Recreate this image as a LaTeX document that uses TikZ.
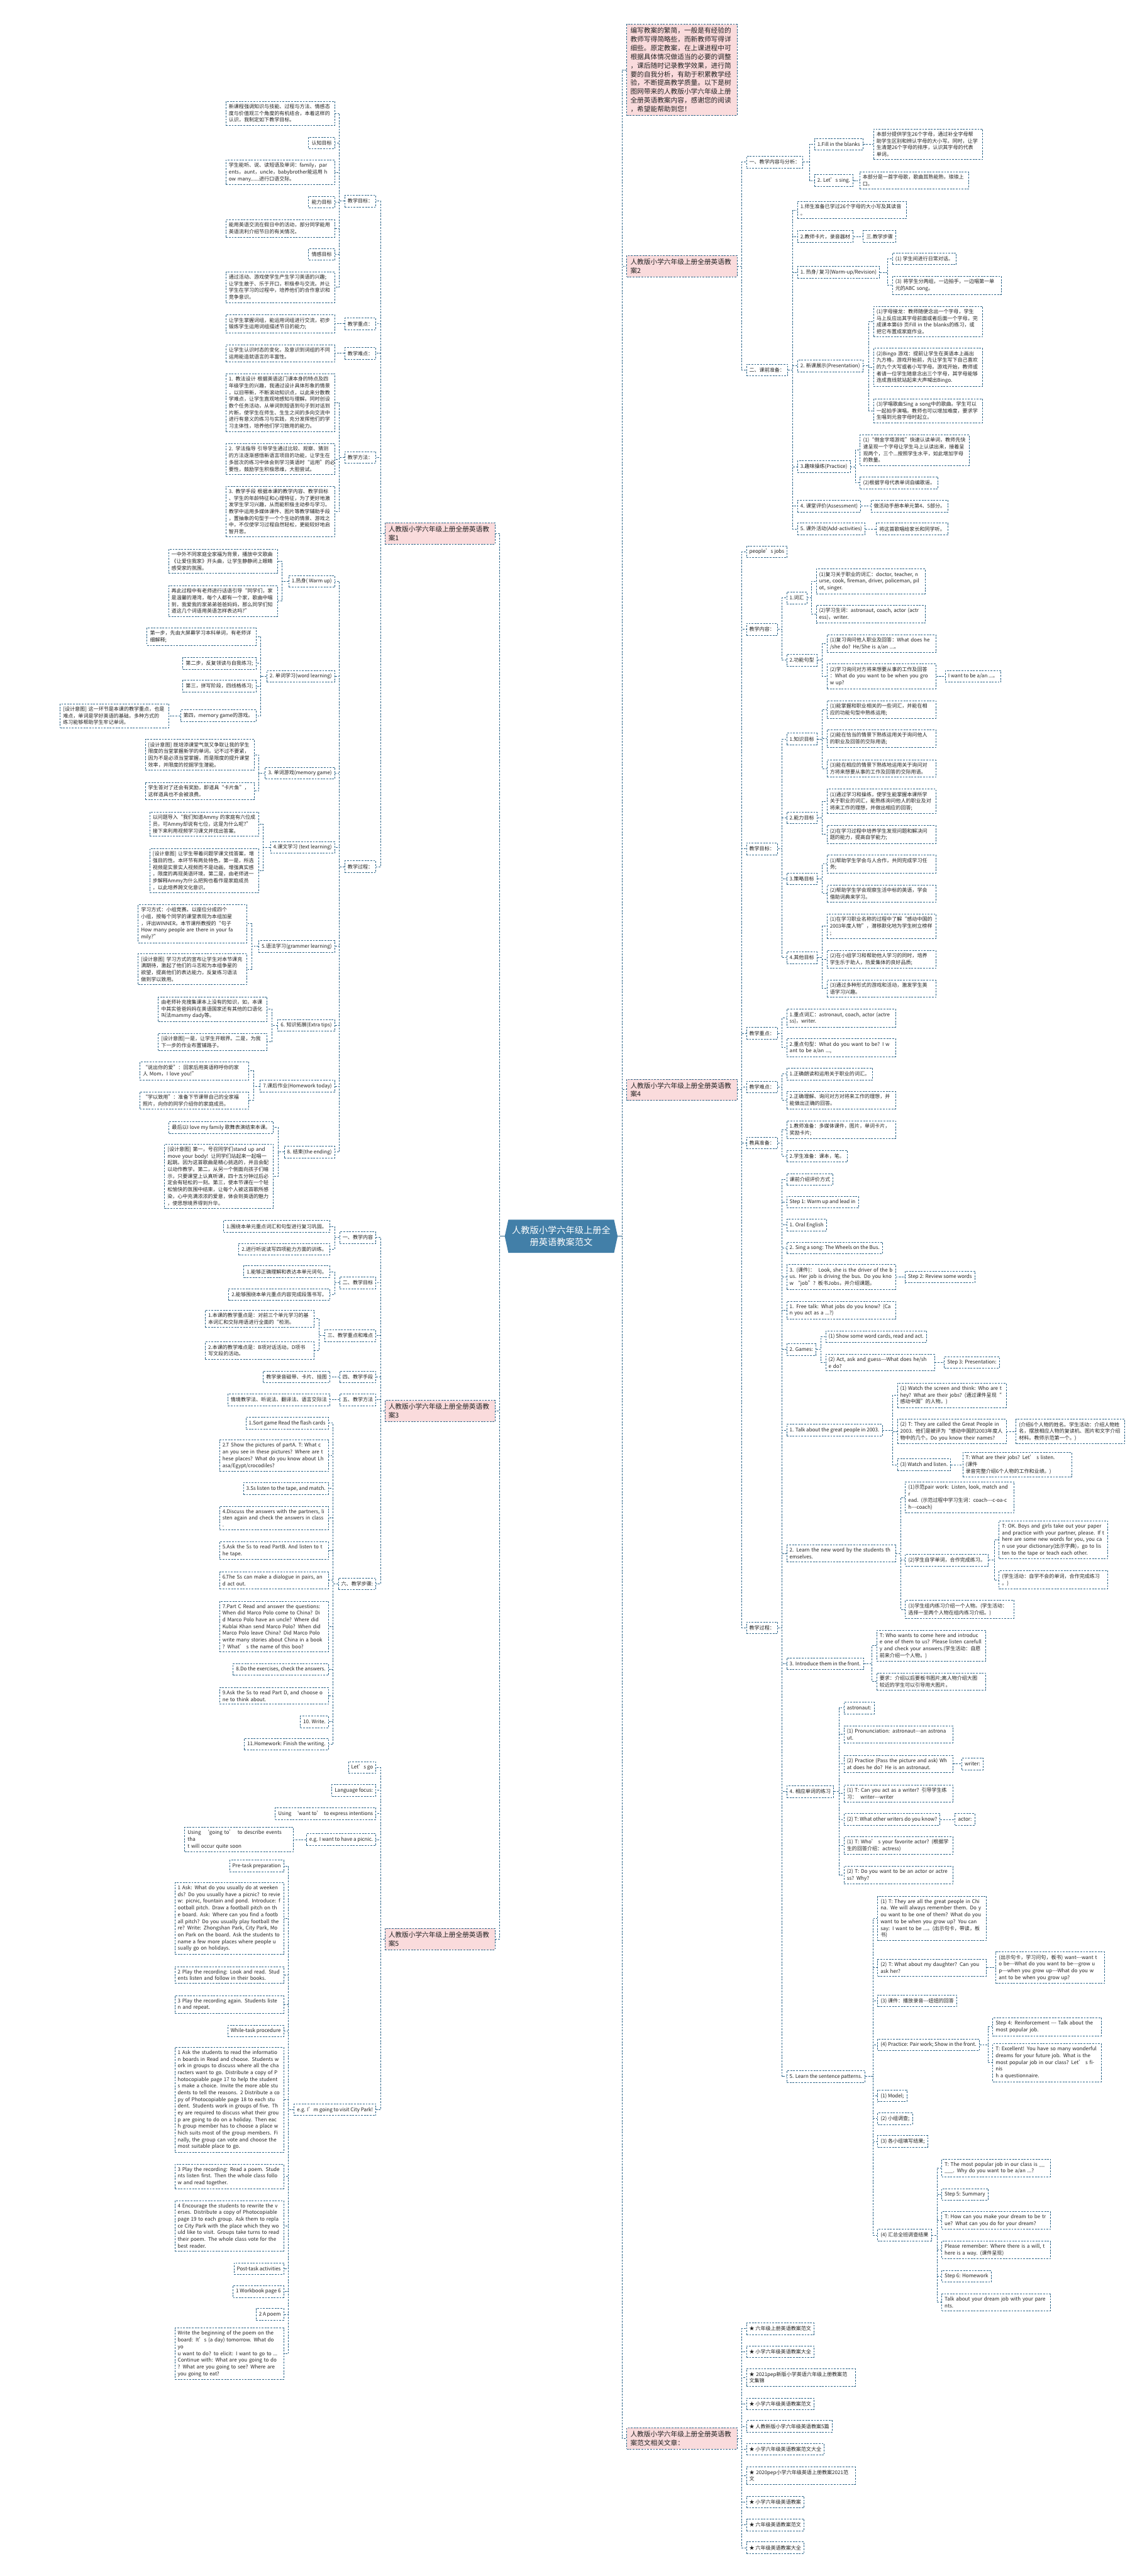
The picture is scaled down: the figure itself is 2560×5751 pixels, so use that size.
\documentclass[tikz,border=0pt]{standalone}
\usepackage{fontspec}
\newfontfamily\cjk{Noto Sans CJK SC}
\usetikzlibrary{calc}
\definecolor{bc}{HTML}{2B6488}
\definecolor{lc}{HTML}{2B6488}
\definecolor{pk}{HTML}{FADBDC}
\definecolor{cb}{HTML}{427FA8}
\definecolor{txt}{HTML}{222222}
\tikzset{
 bx/.style={draw=bc, line width=1.2pt, dash pattern=on 4pt off 2.5pt, fill=white, text=txt, inner xsep=6.5pt, inner ysep=6.5pt, align=left, minimum height=26pt, font=\cjk\fontsize{11.3}{15}\selectfont},
 lb/.style={bx, anchor=east},
 rb/.style={bx, anchor=west},
 ml/.style={text width=230pt},
 pkl/.style={bx, fill=pk, anchor=east, text width=230pt, inner xsep=8pt, inner ysep=7pt, font=\cjk\fontsize{15}{19.5}\selectfont},
 pkr/.style={pkl, anchor=west},
 conn/.style={draw=lc, line width=1.3pt, dash pattern=on 4pt off 2.5pt},
}
\newcommand\conR[2]{\path (#2.west) ++(-10pt,0) coordinate (tt); \draw[conn] (#1.east) -- (tt |- #1.east) |- (#2.west);}
\newcommand\conL[2]{\path (#2.east) ++(10pt,0) coordinate (tt); \draw[conn] (#1.west) -- (tt |- #1.west) |- (#2.east);}
\begin{document}
\begin{tikzpicture}[x=1pt,y=-1pt]
\fill[white] (0,0) rectangle (2560,5751);
\useasboundingbox (0,0) rectangle (2560,5751);
% ---------- centre ----------
\fill[cb] (1127,2760) -- (1135,2723) -- (1371,2723) -- (1379,2760) -- (1371,2797) -- (1135,2797) -- cycle;
\node[font=\cjk\fontsize{20}{26}\selectfont, text=white, align=center, minimum width=252pt, minimum height=74pt, inner sep=0pt] (ctr) at (1253,2760) {人教版小学六年级上册全\\册英语教案范文};
% ---------- main branches ----------
\node[pkl] (m1) at (1106,1191) {人教版小学六年级上册全册英语教\\案1};
\node[pkl] (m3) at (1106,3150) {人教版小学六年级上册全册英语教\\案3};
\node[pkl] (m5) at (1106,4329) {人教版小学六年级上册全册英语教\\案5};
\node[pkr] (intro) at (1399,156) {编写教案的繁简，一般是有经验的\\教师写得简略些，而新教师写得详\\细些。原定教案，在上课进程中可\\根据具体情况做适当的必要的调整\\，课后随时记录教学效果，进行简\\要的自我分析，有助于积累教学经\\验，不断提高教学质量。以下是树\\图网带来的人教版小学六年级上册\\全册英语教案内容，感谢您的阅读\\，希望能帮助到您！};
\node[pkr] (m2) at (1399,594) {人教版小学六年级上册全册英语教\\案2};
\node[pkr] (m4) at (1399,2433) {人教版小学六年级上册全册英语教\\案4};
\node[pkr] (m6) at (1399,5444) {人教版小学六年级上册全册英语教\\案范文相关文章：};
\foreach \m in {m1,m3,m5} {\conL{ctr}{\m}}
\foreach \m in {intro,m2,m4,m6} {\conR{ctr}{\m}}
\draw[lc, line width=1.3pt] (ctr.west) -- ++(-10pt,0);
\draw[lc, line width=1.3pt] (ctr.east) -- ++(10pt,0);
% ================= 教案1 =================
\node[lb] (a1) at (840,449) {教学目标：};
\node[lb] (a2) at (840,723) {教学重点：};
\node[lb] (a3) at (840,789) {教学难点：};
\node[lb] (a4) at (840,1021) {教学方法：};
\node[lb] (a5) at (840,1935) {教学过程：};
\foreach \c in {a1,a2,a3,a4,a5} {\conL{m1}{\c}}
\node[lb,ml] (a1a) at (748,253) {新课程强调知识与技能、过程与方法、情感态\\度与价值观三个角度的有机结合，本着这样的\\认识，我制定如下教学目标。};
\node[lb] (a1b) at (748,319) {认知目标};
\node[lb,ml] (a1c) at (748,385) {学生能听、说、读短语及单词：family，par\\ents，aunt，uncle，babybrother能运用 h\\ow many......进行口语交际。};
\node[lb] (a1d) at (748,451) {能力目标};
\node[lb,ml] (a1e) at (748,510) {能用英语交流在假日中的活动，部分同学能用\\英语流利介绍节日的有关情况。};
\node[lb] (a1f) at (748,568) {情感目标};
\node[lb,ml] (a1g) at (748,641) {通过活动、游戏使学生产生学习英语的兴趣;\\让学生敢于、乐于开口，积极参与交流。并让\\学生在学习的过程中，培养他们的合作意识和\\竞争意识。};
\foreach \c in {a1a,a1b,a1c,a1d,a1e,a1f,a1g} {\conL{a1}{\c}}
\node[lb,ml] (a2a) at (748,723) {让学生掌握词组，能运用词组进行交流，初步\\锻炼学生运用词组描述节日的能力;};
\conL{a2}{a2a}
\node[lb,ml] (a3a) at (748,789) {让学生认识时态的变化，及意识到词组的不同\\运用能造就语言的丰富性。};
\conL{a3}{a3a}
\node[lb,ml] (a4a) at (748,899) {1. 教法设计 根据英语这门课本身的特点及四\\年级学生的兴趣，我通过设计具体形象的情景\\，以旧带新，不断滚动知识点，以此来分散教\\学难点，让学生直观地感知与理解。同时创设\\数个任务活动，从单词到短语到句子到对话到\\片断，使学生在师生、生生之间的多向交流中\\进行有意义的练习与实践，充分发挥他们的学\\习主体性，培养他们学习致用的能力。};
\node[lb,ml] (a4b) at (748,1025) {2. 学法指导 引导学生通过比较、观察、猜测\\的方法逐渐感悟新语言项目的功能，让学生在\\多层次的练习中体会到学习英语时“运用”的必\\要性，鼓励学生积极思维，大胆尝试。};
\node[lb,ml] (a4c) at (748,1142) {3. 教学手段 根据本课的教学内容、教学目标\\、学生的年龄特征和心理特征，为了更好地激\\发学生学习兴趣，从而能积极主动参与学习。\\教学中运用多媒体课件、图片等教学辅助手段\\，置抽象的句型于一个个生动的情景、游戏之\\中，不仅使学习过程自然轻松，更能较好地启\\智开思。};
\foreach \c in {a4a,a4b,a4c} {\conL{a4}{\c}}
\node[lb] (p1) at (748,1298) {1.热身( Warm up)};
\node[lb] (p2) at (748,1510) {2. 单词学习(word learning)};
\node[lb] (p3) at (748,1726) {3. 单词游戏(memory game)};
\node[lb] (p4) at (748,1892) {4.课文学习 (text learning)};
\node[lb] (p5) at (748,2113) {5.语法学习(grammer learning)};
\node[lb] (p6) at (748,2289) {6. 知识拓展(Extra tips)};
\node[lb] (p7) at (748,2425) {7.课后作业(Homework today)};
\node[lb] (p8) at (748,2572) {8. 结束(the ending)};
\foreach \c in {p1,p2,p3,p4,p5,p6,p7,p8} {\conL{a5}{\c}}
\node[lb,ml] (p1a) at (620,1253) {一中外不同家庭全家福为背景，播放中文歌曲\\《让爱住我家》开头曲，让学生静静闭上眼睛\\感受家的氛围。};
\node[lb,ml] (p1b) at (620,1342) {再此过程中有老师进行话语引导“同学们，家\\是温馨的港湾，每个人都有一个家，歌曲中唱\\到，我爱我的家弟弟爸爸妈妈，那么同学们知\\道这几个词语用英语怎样表达吗?”};
\conL{p1}{p1a}\conL{p1}{p1b}
\node[lb,ml] (p2a) at (572,1421) {第一步，先由大屏幕学习本科单词，有老师详\\细解释;};
\node[lb] (p2b) at (572,1481) {第二步，反复领读与自我练习;};
\node[lb] (p2c) at (572,1532) {第三，拼写阶段，四线格练习;};
\node[lb] (p2d) at (572,1598) {第四，memory game的游戏。};
\foreach \c in {p2a,p2b,p2c,p2d} {\conL{p2}{\c}}
\node[lb,ml] (p2e) at (378,1598) {[设计意图] 这一环节是本课的教学重点，也是\\难点，单词是学好英语的基础，多种方式的\\练习能够帮助学生牢记单词。};
\conL{p2d}{p2e}
\node[lb,ml] (p3a) at (568,1685) {[设计意图] 既培添课堂气氛又争取让我的学生\\限度的当堂掌握新学的单词。记不过不要紧，\\因为不是必须当堂掌握，而是限度的提升课堂\\效率，并限度的挖掘学生潜能。};
\node[lb,ml] (p3b) at (568,1766) {学生答对了还会有奖励，即道具“卡片鱼”，\\这样道具也不会被浪费。};
\conL{p3}{p3a}\conL{p3}{p3b}
\node[lb,ml] (p4a) at (578,1840) {以问题导入“我们知道Ammy 的家庭有六位成\\员，可Ammy却说有七位，这是为什么呢?”\\接下来利用视频学习课文并找出答案。};
\node[lb,ml] (p4b) at (578,1944) {[设计意图] 让学生带着问题学课文找答案，增\\强目的性。本环节有两处特色，第一是，所选\\视频是实景实人视频而不是动画，增强真实感\\，限度的再现英语环境。第二是，由老师进一\\步解释Ammy为什么把狗也看作是家庭成员\\，以此培养跨文化意识。};
\conL{p4}{p4a}\conL{p4}{p4b}
\node[lb,ml] (p5a) at (552,2062) {学习方式：小组竞赛。以座位分成四个\\小组，按每个同学的课堂表现为本组加星\\，评出WINNER。本节课所教授的“句子\\How many people are there in your fa\\mily?”};
\node[lb,ml] (p5b) at (552,2164) {[设计意图] 学习方式的宣布让学生对本节课充\\满期待，激起了他们的斗志和为本组争星的\\欲望，提高他们的表达能力，反复练习语法\\做到学以致用。};
\conL{p5}{p5a}\conL{p5}{p5b}
\node[lb,ml] (p6a) at (597,2253) {由老师补充搜集课本上没有的知识，如，本课\\中其实爸爸妈妈在英语国家还有其他的口语化\\叫法mammy dady等。};
\node[lb,ml] (p6b) at (597,2326) {[设计意图]一是，让学生开眼界。二是，为我\\下一步的作业布置铺路子。};
\conL{p6}{p6a}\conL{p6}{p6b}
\node[lb,ml] (p7a) at (556,2391) {“说出你的爱”：回家后用英语称呼你的家\\人 Mom，I love you!”};
\node[lb,ml] (p7b) at (556,2457) {“学以致用”：准备下节课带自己的全家福\\照片，向你的同学介绍你的家庭成员。};
\conL{p7}{p7a}\conL{p7}{p7b}
\node[lb] (p8a) at (611,2517) {最后以I love my family 歌舞表演结束本课。};
\node[lb,ml] (p8b) at (611,2626) {[设计意图] 第一，号召同学们stand up and\\move your body! 让同学们站起来一起唱一\\起跳。因为这首歌曲是精心挑选的，并且会配\\以动作教学。第二，从另一个侧面向孩子们暗\\示，只要课堂上认真听课，四十五分钟过后必\\定会有轻松的一刻。第三，使本节课在一个轻\\松愉快的氛围中结束，让每个人被这首歌所感\\染，心中充满浓浓的爱意，体会到英语的魅力\\，使思想境界得到升华。};
\conL{p8}{p8a}\conL{p8}{p8b}
% ================= 教案3 =================
\node[lb] (b1) at (840,2763) {一、教学内容};
\node[lb] (b2) at (840,2864) {二、教学目标};
\node[lb] (b3) at (840,2982) {三、教学重点和难点};
\node[lb] (b4) at (840,3074) {四、教学手段};
\node[lb] (b5) at (840,3125) {五、教学方法};
\node[lb] (b6) at (840,3536) {六、教学步骤:};
\foreach \c in {b1,b2,b3,b4,b5,b6} {\conL{m3}{\c}}
\node[lb] (b1a) at (737,2738) {1.围绕本单元重点词汇和句型进行复习巩固。};
\node[lb] (b1b) at (737,2789) {2.进行听说读写四项能力方面的训练。};
\conL{b1}{b1a}\conL{b1}{b1b}
\node[lb] (b2a) at (737,2839) {1.能够正确理解和表达本单元词句。};
\node[lb] (b2b) at (737,2890) {2.能够围绕本单元重点内容完成段落书写。};
\conL{b2}{b2a}\conL{b2}{b2b}
\node[lb,ml] (b3a) at (702,2944) {1.本课的教学重点是：对前三个单元学习的基\\本词汇和交际用语进行全面的“检测。};
\node[lb,ml] (b3b) at (702,3015) {2.本课的教学难点是：B项对话活动。D项书\\写文段的活动。};
\conL{b3}{b3a}\conL{b3}{b3b}
\node[lb] (b4a) at (737,3074) {教学录音磁带、卡片、挂图};
\conL{b4}{b4a}
\node[lb] (b5a) at (737,3125) {情境教学法、听说法、翻译法、语言交际法};
\conL{b5}{b5a}
\node[lb] (s1) at (734,3177) {1.Sort game Read the flash cards};
\node[lb,ml] (s2) at (734,3250) {2.T Show the pictures of partA. T: What c\\an you see in these pictures? Where are t\\hese places? What do you know about Lh\\asa/Egypt/crocodiles?};
\node[lb] (s3) at (734,3323) {3.Ss listen to the tape, and match.};
\node[lb,ml] (s4) at (734,3389) {4.Discuss the answers with the partners, li\\sten again and check the answers in class\\.};
\node[lb,ml] (s5) at (734,3462) {5.Ask the Ss to read PartB. And listen to t\\he tape.};
\node[lb,ml] (s6) at (734,3528) {6.The Ss can make a dialogue in pairs, an\\d act out.};
\node[lb,ml] (s7) at (734,3631) {7.Part C Read and answer the questions:\\When did Marco Polo come to China? Di\\d Marco Polo have an uncle? Where did\\Kublai Khan send Marco Polo? When did\\Marco Polo leave China? Did Marco Polo\\write many stories about China in a book\\? What’ s the name of this boo?};
\node[lb] (s8) at (734,3727) {8.Do the exercises, check the answers.};
\node[lb,ml] (s9) at (734,3786) {9.Ask the Ss to read Part D, and choose o\\ne to think about.};
\node[lb] (s10) at (734,3844) {10. Write.};
\node[lb] (s11) at (734,3894) {11.Homework: Finish the writing.};
\foreach \c in {s1,s2,s3,s4,s5,s6,s7,s8,s9,s10,s11} {\conL{b6}{\c}}
% ================= 教案5 =================
\node[lb] (c1) at (840,3946) {Let’s go};
\node[lb] (c2) at (840,3997) {Language focus:};
\node[lb] (c3) at (840,4049) {Using \ ‘want to’ \ to express intentions};
\node[lb] (c4) at (840,4107) {e.g. I want to have a picnic.};
\node[lb] (c5) at (840,4710) {e.g. I’m going to visit City Park!};
\foreach \c in {c1,c2,c3,c4,c5} {\conL{m5}{\c}}
\node[lb,ml] (c4a) at (656,4107) {Using \ ‘going to’ \ to describe events tha\\t will occur quite soon};
\conL{c4}{c4a}
\node[lb] (d1) at (634,4166) {Pre-task preparation};
\node[lb,ml] (d2) at (634,4283) {1 Ask: What do you usually do at weeken\\ds? Do you usually have a picnic? to revie\\w: picnic, fountain and pond. Introduce: f\\ootball pitch. Draw a football pitch on th\\e board. Ask: Where can you find a footb\\all pitch? Do you usually play football the\\re? Write: Zhongshan Park, City Park, Mo\\on Park on the board. Ask the students to\\ name a few more places where people u\\sually go on holidays.};
\node[lb,ml] (d3) at (634,4409) {2 Play the recording: Look and read. Stud\\ents listen and follow in their books.};
\node[lb,ml] (d4) at (634,4475) {3 Play the recording again. Students liste\\n and repeat.};
\node[lb] (d5) at (634,4534) {While-task procedure};
\node[lb,ml] (d6) at (634,4688) {1 Ask the students to read the informatio\\n boards in Read and choose. Students w\\ork in groups to discuss where all the cha\\racters want to go. Distribute a copy of P\\hotocopiable page 17 to help the student\\s make a choice. Invite the more able stu\\dents to tell the reasons. 2 Distribute a co\\py of Photocopiable page 18 to each stu\\dent. Students work in groups of five. Th\\ey are required to discuss what their grou\\p are going to do on a holiday. Then eac\\h group member has to choose a place w\\hich suits most of the group members. Fi\\nally, the group can vote and choose the\\most suitable place to go.};
\node[lb,ml] (d7) at (634,4859) {3 Play the recording: Read a poem. Stude\\nts listen first. Then the whole class follo\\w and read together.};
\node[lb,ml] (d8) at (634,4969) {4 Encourage the students to rewrite the v\\erses. Distribute a copy of Photocopiable\\page 19 to each group. Ask them to repla\\ce City Park with the place which they wo\\uld like to visit. Groups take turns to read\\ their poem. The whole class vote for the\\best reader.};
\node[lb] (d9) at (634,5065) {Post-task activities};
\node[lb] (d10) at (634,5116) {1 Workbook page 6};
\node[lb] (d11) at (634,5167) {2 A poem};
\node[lb,ml] (d12) at (634,5255) {Write the beginning of the poem on the\\board: It’s (a day) tomorrow. What do yo\\u want to do? to elicit: I want to go to ...\\Continue with: What are you going to do\\? What are you going to see? Where are\\you going to eat?};
\foreach \c in {d1,d2,d3,d4,d5,d6,d7,d8,d9,d10,d11,d12} {\conL{c5}{\c}}
% ================= 教案2 =================
\node[rb] (e1) at (1666,362) {一、教学内容与分析：};
\node[rb] (e2) at (1666,826) {二、课前准备：};
\conR{m2}{e1}\conR{m2}{e2}
\node[rb] (e1a) at (1818,322) {1.Fill in the blanks};
\node[rb] (e1b) at (1818,403) {2. Let’s sing.};
\conR{e1}{e1a}\conR{e1}{e1b}
\node[rb,ml] (e1a1) at (1950,322) {本部分提供学生26个字母，通过补全字母帮\\助学生区别和辨认字母的大小写。同时，让学\\生清楚26个字母的排序，认识其字母的代表\\单词。};
\conR{e1a}{e1a1}
\node[rb,ml] (e1b1) at (1919,403) {本部分是一首字母歌，歌曲耳熟能熟，琅琅上\\口。};
\conR{e1b}{e1b1}
\node[rb,ml] (f1) at (1780,469) {1.师生准备已学过26个字母的大小写及其读音\\。};
\node[rb] (f2) at (1780,528) {2.教师卡片，录音器材};
\node[rb] (f3) at (1780,608) {1. 热身/ 复习(Warm-up/Revision)};
\node[rb] (f4) at (1780,817) {2. 新课展示(Presentation)};
\node[rb] (f5) at (1780,1042) {3.趣味操练(Practice)};
\node[rb] (f6) at (1780,1130) {4. 课堂评价(Assessment)};
\node[rb] (f7) at (1780,1181) {5. 课外活动(Add-activities)};
\foreach \c in {f1,f2,f3,f4,f5,f6,f7} {\conR{e2}{\c}}
\node[rb] (f2a) at (1927,528) {三.教学步骤};
\conR{f2}{f2a}
\node[rb] (f3a) at (1992,578) {(1) 学生间进行日常对话。};
\node[rb,ml] (f3b) at (1992,637) {(3) 将学生分两组，一边拍手，一边唱第一单\\元的ABC song。};
\conR{f3}{f3a}\conR{f3}{f3b}
\node[rb,ml] (f4a) at (1950,718) {(1)字母接龙：教师随便念出一个字母，学生\\马上反应出其字母前面或者后面一个字母。完\\成课本第69 页Fill in the blanks的练习，或\\把它布置成家庭作业。};
\node[rb,ml] (f4b) at (1950,820) {(2)Bingo 游戏：提前让学生在英语本上画出\\九方格，游戏开始前，先让学生写下自己喜欢\\的九个大写或者小写字母。游戏开始，教师或\\者请一位学生随意念出三个字母，其字母能够\\连成直线就站起来大声喊出Bingo.};
\node[rb,ml] (f4c) at (1950,917) {(3)学唱歌曲Sing a song中的歌曲。学生可以\\一起拍手演唱。教师也可以增加难度，要求学\\生唱到元音字母时起立。};
\conR{f4}{f4a}\conR{f4}{f4b}\conR{f4}{f4c}
\node[rb,ml] (f5a) at (1920,1005) {(1)“倒金字塔游戏”快速认读单词，教师先快\\速呈现一个字母让学生马上认读出来，接着呈\\现两个，三个...按照学生水平，如此增加字母\\的数量。};
\node[rb] (f5b) at (1920,1078) {(2)根据字母代表单词自编歌谣。};
\conR{f5}{f5a}\conR{f5}{f5b}
\node[rb] (f6a) at (1944,1130) {做活动手册本单元第4、5部分。};
\conR{f6}{f6a}
\node[rb] (f7a) at (1956,1181) {将这首歌唱给家长和同学听。};
\conR{f7}{f7a}
% ================= 教案4 =================
\node[rb] (g1) at (1666,1232) {people’s jobs};
\node[rb] (g2) at (1666,1405) {教学内容：};
\node[rb] (g3) at (1666,1895) {教学目标：};
\node[rb] (g4) at (1666,2307) {教学重点：};
\node[rb] (g5) at (1666,2427) {教学难点：};
\node[rb] (g6) at (1666,2552) {教具准备：};
\node[rb] (g7) at (1666,3634) {教学过程：};
\foreach \c in {g1,g2,g3,g4,g5,g6,g7} {\conR{m4}{\c}}
\node[rb] (g2a) at (1756,1335) {1.词汇};
\node[rb] (g2b) at (1756,1474) {2.功能句型};
\conR{g2}{g2a}\conR{g2}{g2b}
\node[rb,ml] (g2a1) at (1822,1298) {(1)复习关于职业的词汇：doctor, teacher, n\\urse, cook, fireman, driver, policeman, pil\\ot, singer.};
\node[rb,ml] (g2a2) at (1822,1371) {(2)学习生词：astronaut, coach, actor (actr\\ess)，writer.};
\conR{g2a}{g2a1}\conR{g2a}{g2a2}
\node[rb,ml] (g2b1) at (1846,1437) {(1)复习询问他人职业及回答：What does he\\/she do? He/She is a/an ...。};
\node[rb,ml] (g2b2) at (1846,1510) {(2)学习询问对方将来想要从事的工作及回答\\：What do you want to be when you gro\\w up?};
\conR{g2b}{g2b1}\conR{g2b}{g2b2}
\node[rb] (g2b3) at (2110,1510) {I want to be a/an ...。};
\conR{g2b2}{g2b3}
\node[rb] (h1) at (1756,1650) {1.知识目标};
\node[rb] (h2) at (1756,1826) {2.能力目标};
\node[rb] (h3) at (1756,1962) {3.策略目标};
\node[rb] (h4) at (1756,2138) {4.其他目标};
\foreach \c in {h1,h2,h3,h4} {\conR{g3}{\c}}
\node[rb,ml] (h1a) at (1846,1584) {(1)能掌握和职业相关的一些词汇，并能在相\\应的功能句型中熟练运用;};
\node[rb,ml] (h1b) at (1846,1649) {(2)能在恰当的情景下熟练运用关于询问他人\\的职业及回答的交际用语;};
\node[rb,ml] (h1c) at (1846,1716) {(3)能在相应的情景下熟练地运用关于询问对\\方将来想要从事的工作及回答的交际用语。};
\conR{h1}{h1a}\conR{h1}{h1b}\conR{h1}{h1c}
\node[rb,ml] (h2a) at (1846,1789) {(1)通过学习和操练，使学生能掌握本课所学\\关于职业的词汇，能熟练询问他人的职业及对\\将来工作的理想，并做出相应的回答;};
\node[rb,ml] (h2b) at (1846,1863) {(2)在学习过程中培养学生发现问题和解决问\\题的能力，提高自学能力;};
\conR{h2}{h2a}\conR{h2}{h2b}
\node[rb,ml] (h3a) at (1846,1929) {(1)帮助学生学会与人合作，共同完成学习任\\务;};
\node[rb,ml] (h3b) at (1846,1995) {(2)帮助学生学会观察生活中标的英语，学会\\借助词典来学习。};
\conR{h3}{h3a}\conR{h3}{h3b}
\node[rb,ml] (h4a) at (1846,2068) {(1)在学习职业名称的过程中了解“感动中国的\\2003年度人物”，潜移默化地为学生树立榜样\\;};
\node[rb,ml] (h4b) at (1846,2142) {(2)在小组学习和帮助他人学习的同时，培养\\学生乐于助人，热爱集体的良好品质;};
\node[rb,ml] (h4c) at (1846,2207) {(3)通过多种形式的游戏和活动，激发学生英\\语学习兴趣。};
\conR{h4}{h4a}\conR{h4}{h4b}\conR{h4}{h4c}
\node[rb,ml] (g4a) at (1756,2273) {1.重点词汇：astronaut, coach, actor (actre\\ss)，writer.};
\node[rb,ml] (g4b) at (1756,2339) {2.重点句型：What do you want to be? I w\\ant to be a/an ...,};
\conR{g4}{g4a}\conR{g4}{g4b}
\node[rb] (g5a) at (1756,2398) {1.正确朗读和运用关于职业的词汇。};
\node[rb,ml] (g5b) at (1756,2456) {2.正确理解、询问对方对将来工作的理想，并\\能做出正确的回答。};
\conR{g5}{g5a}\conR{g5}{g5b}
\node[rb,ml] (g6a) at (1756,2522) {1.教师准备：多媒体课件，图片，单词卡片，\\奖励卡片;};
\node[rb] (g6b) at (1756,2581) {2.学生准备：课本，笔。};
\conR{g6}{g6a}\conR{g6}{g6b}
% 教学过程
\node[rb] (k1) at (1756,2633) {课前介绍评价方式};
\node[rb] (k2) at (1756,2684) {Step 1: Warm up and lead in};
\node[rb] (k3) at (1756,2735) {1. Oral English};
\node[rb] (k4) at (1756,2786) {2. Sing a song: The Wheels on the Bus.};
\node[rb,ml] (k5) at (1756,2851) {3. (课件)：\ \ Look, she is the driver of the b\\us. Her job is driving the bus. Do you kno\\w “job”? 板书Jobs，并介绍课题。};
\node[rb,ml] (k6) at (1756,2925) {1. Free talk: What jobs do you know? (Ca\\n you act as a ...?)};
\node[rb] (k7) at (1756,3013) {2. Games:};
\node[rb] (k8) at (1756,3193) {1. Talk about the great people in 2003.};
\node[rb,ml] (k9) at (1756,3468) {2. Learn the new word by the students th\\emselves.};
\node[rb] (k10) at (1756,3714) {3. Introduce them in the front.};
\node[rb] (k11) at (1756,4000) {4. 相应单词的练习};
\node[rb] (k12) at (1756,4636) {5. Learn the sentence patterns.};
\foreach \c in {k1,k2,k3,k4,k5,k6,k7,k8,k9,k10,k11,k12} {\conR{g7}{\c}}
\node[rb] (k5a) at (2020,2851) {Step 2: Review some words};
\conR{k5}{k5a}
\node[rb] (k7a) at (1843,2984) {(1) Show some word cards, read and act.};
\node[rb,ml] (k7b) at (1843,3042) {(2) Act, ask and guess-{}-{}-What does he/sh\\e do?};
\conR{k7}{k7a}\conR{k7}{k7b}
\node[rb] (k7c) at (2108,3042) {Step 3: Presentation:};
\conR{k7b}{k7c}
\node[rb,ml] (k8a) at (2003,3115) {(1) Watch the screen and think: Who are t\\hey? What are their jobs? (通过课件呈现“\\感动中国”的人物。)};
\node[rb,ml] (k8b) at (2003,3196) {(2) T: They are called the Great People in\\2003. 他们是被评为“感动中国的2003年度人\\物中的几个。Do you know their names?};
\node[rb] (k8c) at (2003,3270) {(3) Watch and listen.};
\conR{k8}{k8a}\conR{k8}{k8b}\conR{k8}{k8c}
\node[rb,ml] (k8b1) at (2268,3196) {(介绍6个人物的姓名。学生活动：介绍人物姓\\名，摆放相应人物的复读机、图片和文字介绍\\材料。教师示范第一个。)};
\conR{k8b}{k8b1}
\node[rb,ml] (k8c1) at (2149,3270) {T: What are their jobs? Let’ s listen. (课件\\录音完整介绍6个人物的工作和业绩。)};
\conR{k8c}{k8c1}
\node[rb,ml] (k9a) at (2021,3343) {(1)示范pair work: Listen, look, match and r\\ead. (示范过程中学习生词：coach-{}-{}-c-oa-c\\h-{}-{}-coach)};
\node[rb] (k9b) at (2021,3483) {(2)学生自学单词，合作完成练习。};
\node[rb,ml] (k9c) at (2021,3593) {(3)学生组内练习介绍一个人物。(学生活动：\\选择一至两个人物在组内练习介绍。)};
\conR{k9}{k9a}\conR{k9}{k9b}\conR{k9}{k9c}
\node[rb,ml] (k9b1) at (2230,3438) {T: OK. Boys and girls take out your paper\\and practice with your partner, please. If t\\here are some new words for you, you ca\\n use your dictionary(出示字典)，go to lis\\ten to the tape or teach each other.};
\node[rb,ml] (k9b2) at (2230,3527) {(学生活动：自学不会的单词，合作完成练习\\。)};
\conR{k9b}{k9b1}\conR{k9b}{k9b2}
\node[rb,ml] (k10a) at (1957,3674) {T: Who wants to come here and introduc\\e one of them to us? Please listen carefull\\y and check your answers.(学生活动：自愿\\前来介绍一个人物。)};
\node[rb,ml] (k10b) at (1957,3754) {要求：介绍以后要板书图片;离人物介绍大图\\较近的学生可以引导用大图片。};
\conR{k10}{k10a}\conR{k10}{k10b}
\node[rb] (l1) at (1884,3813) {astronaut:};
\node[rb,ml] (l2) at (1884,3872) {(1) Pronunciation: astronaut-{}-{}-an astrona\\ut.};
\node[rb,ml] (l3) at (1884,3938) {(2) Practice (Pass the picture and ask) Wh\\at does he do? He is an astronaut.};
\node[rb,ml] (l4) at (1884,4004) {(1) T: Can you act as a writer? 引导学生练\\习：\ \ writer-{}-{}-writer};
\node[rb] (l5) at (1884,4062) {(2) T: What other writers do you know?};
\node[rb,ml] (l6) at (1884,4120) {(1) T: Who’ s your favorite actor? (根据学\\生的回答介绍：actress)};
\node[rb,ml] (l7) at (1884,4186) {(2) T: Do you want to be an actor or actre\\ss? Why?};
\foreach \c in {l1,l2,l3,l4,l5,l6,l7} {\conR{k11}{\c}}
\node[rb] (l3a) at (2147,3938) {writer:};
\conR{l3}{l3a}
\node[rb] (l5a) at (2132,4062) {actor:};
\conR{l5}{l5a}
\node[rb,ml] (n1) at (1959,4283) {(1) T: They are all the great people in Chi\\na. We will always remember them. Do y\\ou want to be one of them? What do you\\ want to be when you grow up? You can\\say: I want to be ...。(出示句卡，带读，板\\书)};
\node[rb,ml] (n2) at (1959,4393) {(2) T: What about my daughter? Can you\\ask her?};
\node[rb] (n3) at (1959,4467) {(3) 课件：播放录音-{}-{}-妞妞的回答};
\node[rb] (n4) at (1959,4565) {(4) Practice: Pair work; Show in the front.};
\node[rb] (n5) at (1959,4679) {(1) Model;};
\node[rb] (n6) at (1959,4730) {(2) 小组调查;};
\node[rb] (n7) at (1959,4781) {(3) 各小组填写结果;};
\node[rb] (n8) at (1959,4990) {(4) 汇总全班调查结果};
\foreach \c in {n1,n2,n3,n4,n5,n6,n7,n8} {\conR{k12}{\c}}
\node[rb,ml] (n2a) at (2223,4393) {(出示句卡，学习问句，板书) want-{}-{}-want t\\o be-{}-{}-What do you want to be-{}-{}-grow u\\p-{}-{}-when you grow up-{}-{}-What do you w\\ant to be when you grow up?};
\conR{n2}{n2a}
\node[rb,ml] (n4a) at (2216,4525) {Step 4: Reinforcement -{}-{}- Talk about the\\most popular job.};
\node[rb,ml] (n4b) at (2216,4605) {T: Excellent! You have so many wonderful\\ dreams for your future job. What is the\\most popular job in our class? Let’ s finis\\h a questionnaire.};
\conR{n4}{n4a}\conR{n4}{n4b}
\node[rb,ml] (o1) at (2102,4840) {T: The most popular job in our class is \_\_\\\_\_\_. Why do you want to be a/an ...?};
\node[rb] (o2) at (2102,4899) {Step 5: Summary};
\node[rb,ml] (o3) at (2102,4957) {T: How can you make your dream to be tr\\ue? What can you do for your dream?};
\node[rb,ml] (o4) at (2102,5023) {Please remember: Where there is a will, t\\here is a way. (课件呈现)};
\node[rb] (o5) at (2102,5082) {Step 6: Homework};
\node[rb,ml] (o6) at (2102,5140) {Talk about your dream job with your pare\\nts.};
\foreach \c in {o1,o2,o3,o4,o5,o6} {\conR{n8}{\c}}
% ================= 相关文章 =================
\node[rb] (r1) at (1666,5199) {★ 六年级上册英语教案范文};
\node[rb] (r2) at (1666,5250) {★ 小学六年级英语教案大全};
\node[rb,ml] (r3) at (1666,5308) {★ 2021pep新版小学英语六年级上册教案范\\文集锦};
\node[rb] (r4) at (1666,5367) {★ 小学六年级英语教案范文};
\node[rb] (r5) at (1666,5417) {★ 人教新版小学六年级英语教案5篇};
\node[rb] (r6) at (1666,5468) {★ 小学六年级英语教案范文大全};
\node[rb,ml] (r7) at (1666,5527) {★ 2020pep小学六年级英语上册教案2021范\\文};
\node[rb] (r8) at (1666,5586) {★ 小学六年级英语教案};
\node[rb] (r9) at (1666,5637) {★ 六年级英语教案范文};
\node[rb] (r10) at (1666,5688) {★ 六年级英语教案大全};
\foreach \c in {r1,r2,r3,r4,r5,r6,r7,r8,r9,r10} {\conR{m6}{\c}}
\end{tikzpicture}
\end{document}
